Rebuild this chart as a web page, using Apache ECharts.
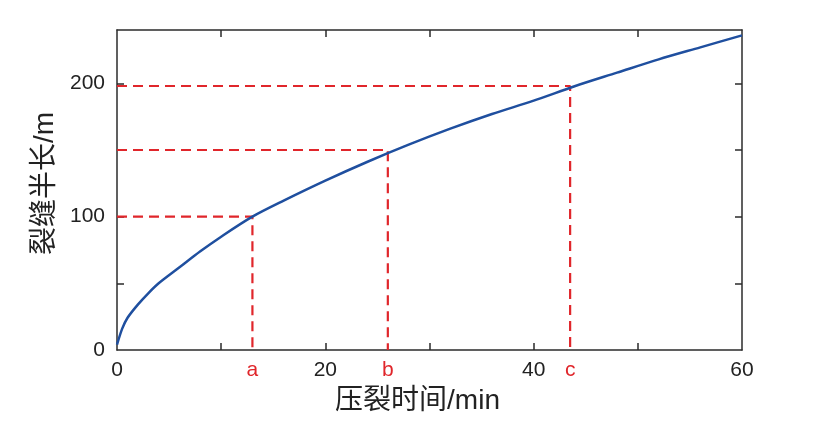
<!DOCTYPE html>
<html><head><meta charset="utf-8">
<script src="https://cdn.jsdelivr.net/npm/echarts@6/dist/echarts.min.js"></script>
<style>html,body{margin:0;padding:0;background:#fff}#c{width:821px;height:425px}</style>
</head><body><div id="c"></div>
<script>
// Curve
const timeMin = [0, 0.5, 1, 2, 3, 4, 6, 8, 10, 13, 16, 20, 24, 28, 32, 36, 40, 44, 48, 52, 56, 60];
const halfLength = [4, 16, 24, 34, 42.5, 50, 62, 74, 85, 100, 112, 127, 141, 154, 166, 177, 187, 198, 208, 218, 227, 236];
// Reference (dashed) markers
const refX = [13, 26, 43.5];
const refY = [100, 150, 198];
const refLabels = ['a', 'b', 'c'];
// Axis ticks and labels
const xTicks = [10, 20, 30, 40, 50];
const xLabels = [0, 20, 40, 60];
const yTicks = [50, 100, 150, 200];
const yLabels = [0, 100, 200];

const FONT = "'Liberation Sans', 'Noto Sans CJK SC', sans-serif";
const AX = '#2b2b2b';
const RED = '#e0262b';
const BLUE = '#1f4f9f';

const chart = echarts.init(document.getElementById('c'), null, {renderer: 'canvas'});

const refSeries = refX.map((x, i) => ({
  type: 'line', xAxisIndex: 0, yAxisIndex: 0,
  data: [[0, refY[i]], [x, refY[i]], [x, 0]],
  symbol: 'none', silent: true, z: 2,
  lineStyle: {color: RED, width: 2.2, type: [10, 6]}
}));

const baseX = {min: 0, max: 60, type: 'value', splitLine: {show: false}};
const baseY = {min: 0, max: 240, type: 'value', splitLine: {show: false}};

chart.setOption({
  animation: false,
  grid: {left: 117, right: 79, top: 30, bottom: 75, containLabel: false},
  xAxis: [
    Object.assign({}, baseX, {
      position: 'bottom',
      name: '压裂时间/min', nameLocation: 'middle', nameGap: 37,
      nameTextStyle: {fontSize: 28, color: '#222', fontFamily: FONT, padding: [0, 24, 0, 0]},
      axisLine: {show: true, onZero: false, lineStyle: {color: AX, width: 1.5}},
      axisTick: {show: true, inside: true, length: 7, customValues: xTicks, lineStyle: {color: AX, width: 1.5}},
      axisLabel: {show: true, customValues: xLabels, fontSize: 21, color: '#222', fontFamily: FONT, margin: 10}
    }),
    Object.assign({}, baseX, {
      position: 'top',
      axisLine: {show: true, onZero: false, lineStyle: {color: AX, width: 1.5}},
      axisTick: {show: true, inside: true, length: 7, customValues: xTicks, lineStyle: {color: AX, width: 1.5}},
      axisLabel: {show: false}
    }),
    Object.assign({}, baseX, {
      position: 'bottom',
      axisLine: {show: false},
      axisTick: {show: false},
      axisLabel: {show: true, customValues: refX, fontSize: 21, color: RED, fontFamily: FONT, margin: 10,
        formatter: v => { const i = refX.indexOf(v); return i >= 0 ? refLabels[i] : ''; }}
    })
  ],
  yAxis: [
    Object.assign({}, baseY, {
      position: 'left',
      name: '裂缝半长/m', nameLocation: 'middle', nameGap: 54,
      nameTextStyle: {fontSize: 28, color: '#222', fontFamily: FONT, padding: [0, 0, 0, 13]},
      axisLine: {show: true, onZero: false, lineStyle: {color: AX, width: 1.5}},
      axisTick: {show: true, inside: true, length: 7, customValues: yTicks, lineStyle: {color: AX, width: 1.5}},
      axisLabel: {show: true, customValues: yLabels, fontSize: 21, color: '#222', fontFamily: FONT, margin: 12}
    }),
    Object.assign({}, baseY, {
      position: 'right',
      axisLine: {show: true, onZero: false, lineStyle: {color: AX, width: 1.5}},
      axisTick: {show: true, inside: true, length: 7, customValues: yTicks, lineStyle: {color: AX, width: 1.5}},
      axisLabel: {show: false}
    })
  ],
  series: refSeries.concat([{
    type: 'line', xAxisIndex: 0, yAxisIndex: 0,
    data: timeMin.map((t, i) => [t, halfLength[i]]),
    smooth: 0.3, symbol: 'none', z: 3,
    lineStyle: {color: BLUE, width: 2.5}
  }])
});
</script></body></html>
